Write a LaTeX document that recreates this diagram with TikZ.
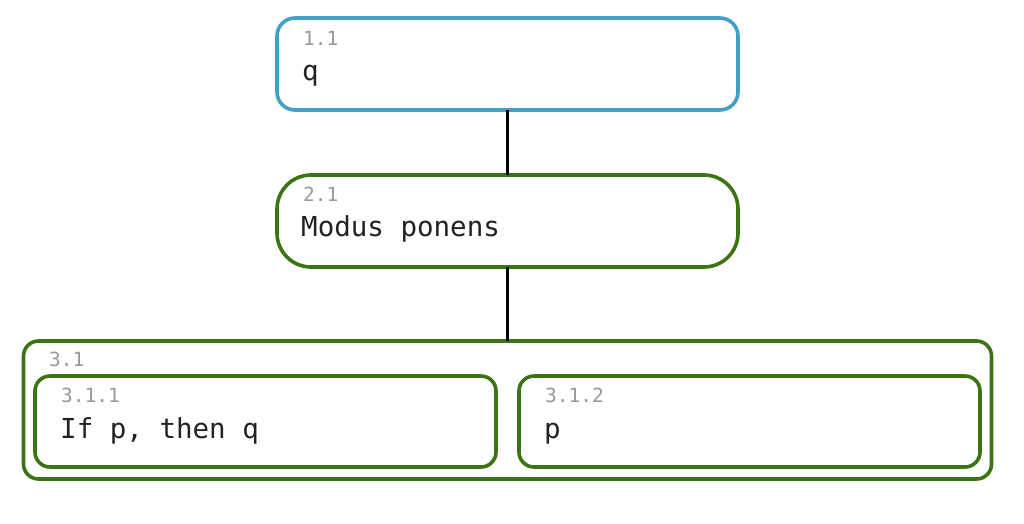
\documentclass[tikz,border=0pt]{standalone}
\usepackage{fontspec}
\setmonofont{DejaVu Sans Mono}
\definecolor{bblue}{HTML}{42A0C8}
\definecolor{bgreen}{HTML}{3B7412}
\definecolor{lgray}{HTML}{999999}
\definecolor{tdark}{HTML}{222222}
\begin{document}
\begin{tikzpicture}[x=1pt,y=-1pt,
  box/.style={draw, line width=3.6pt, outer sep=0pt, inner sep=0pt, fill=white},
  lab/.style={anchor=base west, inner sep=0pt, text=lgray, font=\ttfamily\fontsize{19.5}{22}\selectfont},
  txt/.style={anchor=base west, inner sep=0pt, text=tdark, font=\ttfamily\fontsize{27.5}{32}\selectfont},
  conn/.style={line width=3.6pt, black}]
\useasboundingbox (0,0) rectangle (1024,523);
\node[box, draw=bblue, rounded corners=18pt, minimum width=461pt, minimum height=92pt] (n11) at (507.5,64) {};
\node[box, draw=bgreen, rounded corners=34pt, minimum width=461pt, minimum height=92pt] (n21) at (507.5,221) {};
\node[box, draw=bgreen, rounded corners=15pt, minimum width=968pt, minimum height=138pt] (n31) at (507.5,410) {};
\node[box, draw=bgreen, rounded corners=15pt, minimum width=461pt, minimum height=91pt] (n311) at (265.5,421.5) {};
\node[box, draw=bgreen, rounded corners=15pt, minimum width=461pt, minimum height=91pt] (n312) at (749.5,421.5) {};
\draw[conn] (n11.south) -- (n21.north);
\draw[conn] (n21.south) -- (n31.north);
% texts
\node[lab] (l11) at (303,45) {1.1};
\node[txt] (t11) at (302,80) {q};
\node[lab] (l21) at (303,201) {2.1};
\node[txt] (t21) at (301,236) {Modus ponens};
\node[lab] (l31) at (49,366) {3.1};
\node[lab] (l311) at (61,402) {3.1.1};
\node[txt] (t311) at (60,438) {If p, then q};
\node[lab] (l312) at (545,402) {3.1.2};
\node[txt] (t312) at (544,438) {p};
\end{tikzpicture}
\end{document}
